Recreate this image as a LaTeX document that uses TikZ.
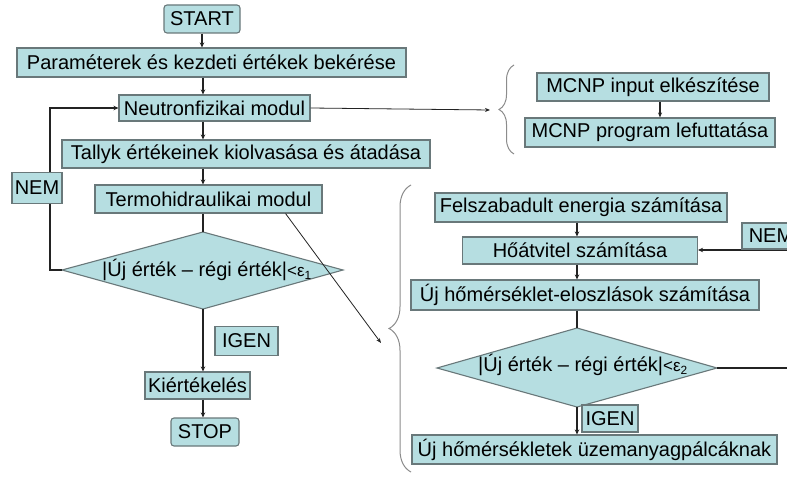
\documentclass[tikz,border=0pt]{standalone}
\usepackage{fontspec}
\setmainfont{Liberation Sans}
\usetikzlibrary{arrows.meta,decorations.pathreplacing,calc}
\definecolor{boxfill}{RGB}{182,222,225}
\definecolor{boxline}{RGB}{105,120,122}
\definecolor{lineclr}{RGB}{35,35,35}
\definecolor{braceclr}{RGB}{140,140,140}
\begin{document}
\begin{tikzpicture}[x=1pt,y=-1pt,
  box/.style={draw=boxline, fill=boxfill, line width=1.1pt, inner sep=0pt,
    font=\fontsize{20}{22}\selectfont, anchor=center},
  rbox/.style={box, rounded corners=3pt},
  arr/.style={draw=lineclr, line width=1.3pt, -{Stealth[length=5pt,width=4.5pt]}},
  ln/.style={draw=lineclr, line width=1.3pt},
  tarr/.style={draw=lineclr, line width=0.8pt, -{Stealth[length=5pt,width=4pt]}},
  brc/.style={draw=braceclr, line width=1pt, decorate},
  dia/.style={draw=boxline, fill=boxfill, line width=1.1pt},
  dtext/.style={inner sep=0pt, font=\fontsize{20}{22}\selectfont},
  ]
\useasboundingbox (0,0) rectangle (787,484);
\fill[white] (0,0) rectangle (787,484);
\clip (0,0) rectangle (787,484);

\coordinate (ax) at (203,0);
\coordinate (axr) at (577,0);

% main column
\node[rbox, minimum width=76, minimum height=28] (start) at (202,19) {START};
\node[box, minimum width=389, minimum height=29] (param) at (211.5,62.5) {Paraméterek és kezdeti értékek bekérése};
\node[box, minimum width=191, minimum height=26] (neutron) at (214.5,108) {Neutronfizikai modul};
\node[box, minimum width=368, minimum height=28] (tallyk) at (246,154) {Tallyk értékeinek kiolvasása és átadása};
\node[box, minimum width=227, minimum height=28] (termo) at (208.5,199) {Termohidraulikai modul};

\coordinate (d1w) at (62,270);
\coordinate (d1n) at (203,232);
\coordinate (d1e) at (343,270);
\coordinate (d1s) at (203,309);
\draw[dia] (d1w) -- (d1n) -- (d1e) -- (d1s) -- cycle;
\node[dtext] (d1) at (207,270) {|Új érték – régi érték|{\fontsize{17}{18}\selectfont <ε\textsubscript{1}}};

\node[box, minimum width=105, minimum height=27] (kiert) at (197.5,385.5) {Kiértékelés};
\node[rbox, minimum width=68, minimum height=28] (stop) at (205,432) {STOP};

\draw[arr] (start.south) -- (start.south |- param.north);
\draw[arr] (param.south -| ax) -- (neutron.north -| ax);
\draw[arr] (neutron.south -| ax) -- (tallyk.north -| ax);
\draw[arr] (tallyk.south -| ax) -- (termo.north -| ax);
\draw[ln] (termo.south -| ax) -- (d1n);
\draw[arr] (d1s) -- (kiert.north -| ax);
\draw[arr] (kiert.south -| ax) -- (stop.north -| ax);

% loop back
\draw[arr] (d1w) -- ++(-12,0) |- (neutron.west);
\node[box, minimum width=50, minimum height=31] (nemL) at (37,188) {NEM};
\node[box, minimum width=63, minimum height=29] (igenL) at (246.5,341) {IGEN};

% upper right group
\coordinate (b1tip) at (490,110);
\draw[tarr] (neutron.east) -- (b1tip);
\draw[brc, decoration={brace, amplitude=15pt}] (514,154) -- (514,65);
\node[box, minimum width=232, minimum height=28] (mcnp1) at (653,87) {MCNP input elkészítése};
\node[box, minimum width=250, minimum height=29] (mcnp2) at (650,132.5) {MCNP program lefuttatása};
\draw[tarr, line width=1.1pt] (mcnp1.south -| 660,0) -- (mcnp2.north -| 660,0);

% lower right group
\coordinate (b2tip) at (381,343);
\draw[tarr] ($(termo.south east)+(-37,0)$) -- (b2tip);
\draw[brc, decoration={brace, amplitude=22pt}] (411,472) -- (411,185);

\node[box, minimum width=292, minimum height=29] (felsz) at (581,207.5) {Felszabadult energia számítása};
\node[box, minimum width=235, minimum height=27] (ho) at (580,250.5) {Hőátvitel számítása};
\node[box, minimum width=348, minimum height=30] (ujelo) at (585,295) {Új hőmérséklet-eloszlások számítása};

\coordinate (d2w) at (437,368);
\coordinate (d2n) at (577,328);
\coordinate (d2e) at (717,368);
\coordinate (d2s) at (577,407);
\draw[dia] (d2w) -- (d2n) -- (d2e) -- (d2s) -- cycle;
\node[dtext] (d2) at (583,365) {|Új érték – régi érték|{\fontsize{17}{18}\selectfont <ε\textsubscript{2}}};

\node[box, minimum width=365, minimum height=29] (ujhom) at (594.5,449.5) {Új hőmérsékletek üzemanyagpálcáknak};

\draw[arr] (felsz.south -| axr) -- (ho.north -| axr);
\draw[arr] (ho.south -| axr) -- (ujelo.north -| axr);
\draw[ln] (ujelo.south -| axr) -- (d2n);
\draw[arr] (d2s) -- (ujhom.north -| axr);
\node[box, minimum width=56, minimum height=27] (igenR) at (610,418.5) {IGEN};

\coordinate (rout) at (795,368);
\draw[ln] (d2e) -- (rout);
\coordinate (rin) at (795,250);
\draw[arr] (rin) -- (rin -| ho.east);
\node[box, minimum width=58, minimum height=26] (nemR) at (771,236) {NEM};
\end{tikzpicture}
\end{document}
